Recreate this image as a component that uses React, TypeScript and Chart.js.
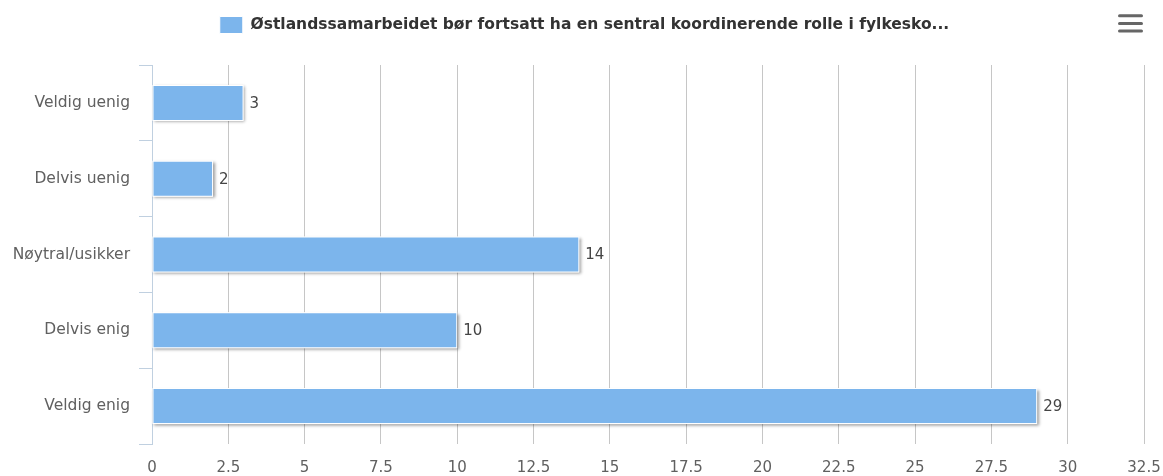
import React, { useEffect, useRef } from 'react';
import { Chart, registerables } from 'chart.js';

Chart.register(...registerables);

const categories = ['Veldig uenig', 'Delvis uenig', 'Nøytral/usikker', 'Delvis enig', 'Veldig enig'];
const seriesName = 'Østlandssamarbeidet bør fortsatt ha en sentral koordinerende rolle i fylkesko...';
const values = [3, 2, 14, 10, 29];
const xMin = 0;
const xMax = 32.5;
const xStep = 2.5;

const LABEL_FONT = "'DejaVu Sans', sans-serif";
const LEGEND_FONT = "'DejaVu Sans', sans-serif";
const BAR_COLOR = '#7CB5EC';
const AXIS_COLOR = '#C0D0E0';
const GRID_COLOR = '#C6C6C6';
const TEXT_COLOR = '#606060';

const barShadow = {
  id: 'barShadow',
  beforeDatasetDraw(chart: any, args: any) {
    const ctx = chart.ctx;
    ctx.save();
    ctx.shadowColor = 'rgba(0,0,0,0.4)';
    ctx.shadowBlur = 3;
    ctx.shadowOffsetX = 1.5;
    ctx.shadowOffsetY = 1.5;
    ctx.fillStyle = '#ffffff';
    args.meta.data.forEach((el: any) => {
      const p = el.getProps(['x', 'y', 'base', 'height'], true);
      ctx.fillRect(Math.min(p.base, p.x), p.y - p.height / 2, Math.abs(p.x - p.base), p.height);
    });
    ctx.restore();
  },
};

const valueLabels = {
  id: 'valueLabels',
  afterDatasetsDraw(chart: any) {
    const ctx = chart.ctx;
    ctx.save();
    ctx.font = `15px ${LABEL_FONT}`;
    ctx.fillStyle = '#454545';
    ctx.textAlign = 'left';
    ctx.textBaseline = 'middle';
    chart.getDatasetMeta(0).data.forEach((el: any, i: number) => {
      const p = el.getProps(['x', 'y'], true);
      ctx.fillText(String(chart.data.datasets[0].data[i]), p.x + 6, p.y + 1);
    });
    ctx.restore();
  },
};

const legendShift = {
  id: 'legendShift',
  afterLayout(chart: any) {
    if (chart.legend) {
      chart.legend.left += 12.5;
      chart.legend.right += 12.5;
    }
  },
};

const menuIcon = {
  id: 'menuIcon',
  afterDraw(chart: any) {
    const ctx = chart.ctx;
    ctx.save();
    ctx.strokeStyle = '#666666';
    ctx.lineWidth = 3;
    ctx.lineCap = 'round';
    [15.8, 23.5, 31].forEach((y) => {
      ctx.beginPath();
      ctx.moveTo(1119.5, y);
      ctx.lineTo(1141.5, y);
      ctx.stroke();
    });
    ctx.restore();
  },
};

export default function App() {
  const canvasRef = useRef<HTMLCanvasElement | null>(null);

  useEffect(() => {
    document.body.style.margin = '0';
    const canvas = canvasRef.current;
    if (!canvas) return;
    const chart = new Chart(canvas, {
      type: 'bar',
      data: {
        labels: categories,
        datasets: [
          {
            label: seriesName,
            data: values,
            backgroundColor: BAR_COLOR,
            borderColor: '#ffffff',
            borderWidth: 1,
            borderSkipped: false,
            categoryPercentage: 1,
            barPercentage: 0.475,
          },
        ],
      },
      options: {
        indexAxis: 'y',
        animation: false,
        responsive: false,
        maintainAspectRatio: false,
        layout: { padding: { top: 6.5, right: 19, bottom: 0, left: 0 } },
        plugins: {
          legend: {
            display: true,
            position: 'top',
            labels: {
              boxWidth: 23,
              boxHeight: 17,
              padding: 10,
              color: '#333333',
              font: { family: LEGEND_FONT, size: 15.5, weight: 'bold' },
            },
          },
          subtitle: {
            display: true,
            text: '',
            position: 'top',
            weight: 500,
            font: { size: 1, lineHeight: 1 },
            padding: { top: 0, bottom: 20.5 },
          },
          tooltip: { enabled: false },
        },
        scales: {
          x: {
            type: 'linear',
            position: 'bottom',
            min: xMin,
            max: xMax,
            ticks: {
              stepSize: xStep,
              color: TEXT_COLOR,
              font: { family: LABEL_FONT, size: 15 },
              padding: 15,
            },
            grid: {
              color: (c: any) => (c.index === 0 ? 'rgba(0,0,0,0)' : GRID_COLOR),
              drawTicks: false,
            },
            border: { display: false },
            afterFit: (s: any) => {
              s.height = 32;
              s.paddingRight = 0;
              s.paddingLeft = 0;
            },
          },
          y: {
            type: 'category',
            position: 'left',
            ticks: {
              color: TEXT_COLOR,
              font: { family: LABEL_FONT, size: 15.5 },
              padding: 9,
            },
            grid: {
              display: true,
              offset: true,
              drawOnChartArea: false,
              drawTicks: true,
              tickLength: 13,
              color: AXIS_COLOR,
            },
            border: { display: true, color: AXIS_COLOR, width: 1 },
            afterFit: (s: any) => {
              s.width = 152;
            },
          },
        },
      },
      plugins: [barShadow, valueLabels, legendShift, menuIcon],
    });
    return () => chart.destroy();
  }, []);

  return (
    <div style={{ width: 1163, height: 476 }}>
      <canvas ref={canvasRef} width={1163} height={476} style={{ display: 'block' }} />
    </div>
  );
}
